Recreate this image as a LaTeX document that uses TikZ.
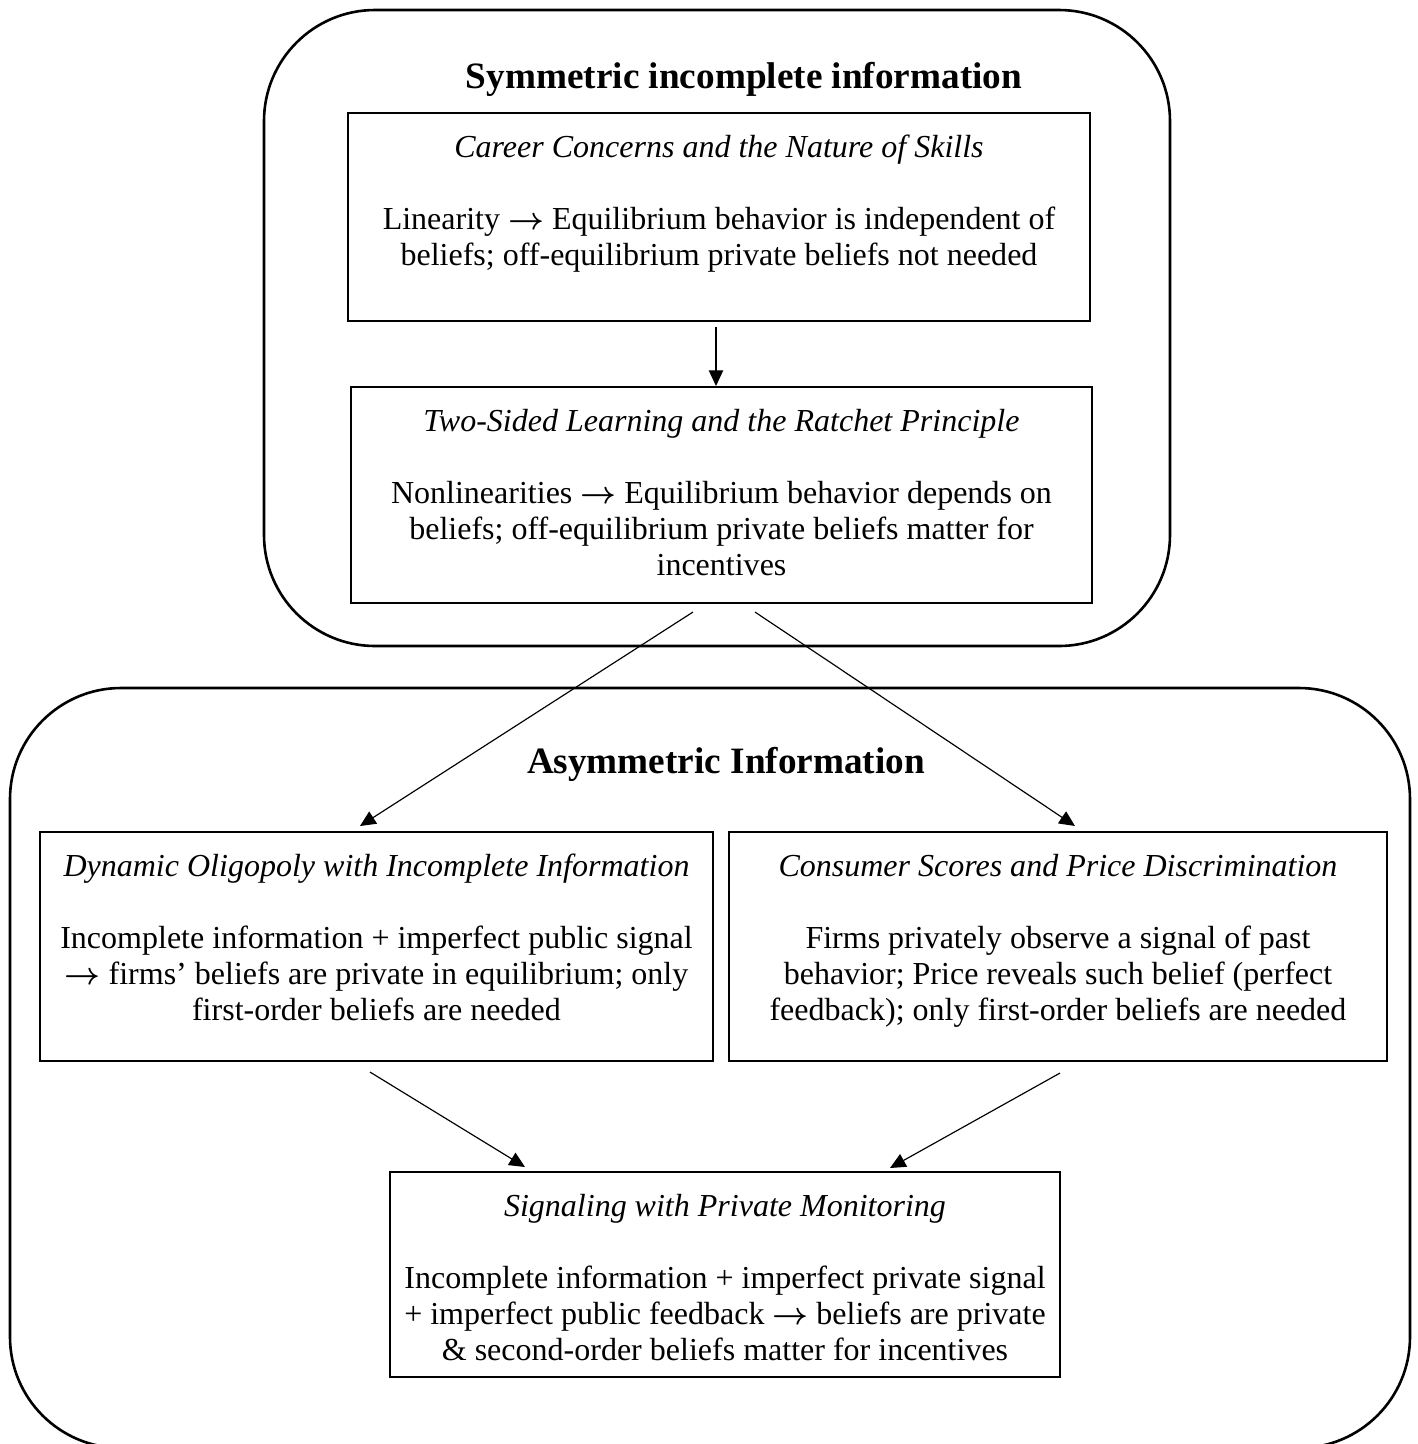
\documentclass[tikz,border=0pt]{standalone}
\usepackage{fontspec}
\setmainfont{Liberation Serif}
\usepackage{tikz}
\usetikzlibrary{arrows.meta,calc}

% body of a box: italic heading, empty line, text
\newcommand{\topic}[4]{\parbox[c][#2][t]{#1}{\centering\textit{#3}\\[\baselineskip]#4}}
\newcommand{\then}{{\boldmath$\rightarrow$}}

\begin{document}
\begin{tikzpicture}[x=0.0135cm,y=-0.0135cm,
  frame/.style={draw,line width=1pt,rounded corners=1.5cm},
  heading/.style={font=\fontsize{14.3}{16}\selectfont\bfseries},
  topicbox/.style={draw,rectangle,line width=0.6pt,anchor=north,inner xsep=0pt,inner ysep=8.5pt,outer sep=0pt,font=\fontsize{12.3}{13.8}\selectfont},
  arr/.style={-{Triangle[length=6pt,width=5.5pt]},line width=0.45pt}]
\useasboundingbox (0,0) rectangle (1418,1444);

% groups
\draw[frame] (264,10) rectangle (1170,646);
\draw[frame] (10,688) rectangle (1410,1448);
\node[heading] (sym) at (744,79) {Symmetric incomplete information};
\node[heading] (asym) at (726,764) {Asymmetric Information};

% papers
\node[topicbox] (ccs) at (719,113) {\topic{285.0pt}{62.9pt}{Career Concerns and the Nature of Skills}{Linearity \then{} Equilibrium behavior is independent of\\ beliefs; off-equilibrium private beliefs not needed}};
\node[topicbox] (tsl) at (721.5,387) {\topic{284.6pt}{66.0pt}{Two-Sided Learning and the Ratchet Principle}{Nonlinearities \then{} Equilibrium behavior depends on\\ beliefs; off-equilibrium private beliefs matter for\\ incentives}};
\node[topicbox] (dol) at (376.5,832) {\topic{258.5pt}{71.0pt}{Dynamic Oligopoly with Incomplete Information}{Incomplete information + imperfect public signal\\ \then{} firms’ beliefs are private in equilibrium; only\\ first-order beliefs are needed}};
\node[topicbox] (csp) at (1058,832) {\topic{252.8pt}{71.0pt}{Consumer Scores and Price Discrimination}{Firms privately observe a signal of past\\ behavior; Price reveals such belief (perfect\\ feedback); only first-order beliefs are needed}};
\node[topicbox] (spm) at (725,1172) {\topic{257.4pt}{61.7pt}{Signaling with Private Monitoring}{Incomplete information + imperfect private signal\\ + imperfect public feedback \then{} beliefs are private\\ \& second-order beliefs matter for incentives}};

% links
\draw[arr] ($(ccs.south)+(-3,6)$) -- ($(tsl.north)+(-5.5,-1)$);
\draw[arr] ($(tsl.south)+(-28.5,9)$) -- ($(dol.north)+(-16.5,-6)$);
\draw[arr] ($(tsl.south)+(33.5,9)$) -- ($(csp.north)+(17,-6)$);
\draw[arr] ($(dol.south)+(-6.5,11)$) -- ($(spm.north)+(-200,-5)$);
\draw[arr] ($(csp.south)+(2,12)$) -- ($(spm.north)+(165,-4)$);
\end{tikzpicture}
\end{document}
